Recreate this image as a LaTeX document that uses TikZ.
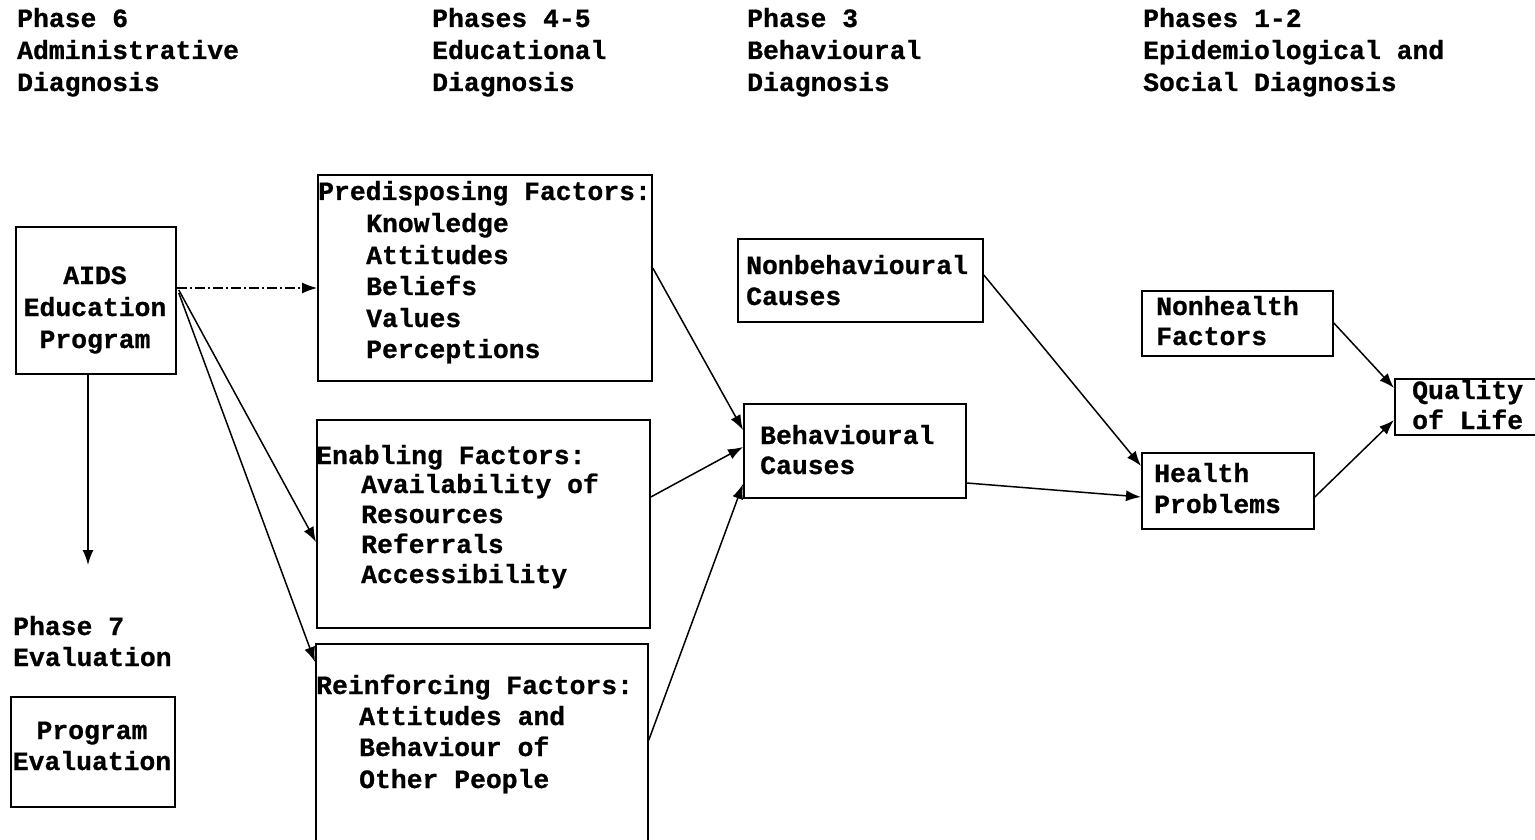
\documentclass[tikz,border=0pt]{standalone}
\usepackage{fontspec}
\newfontfamily\courb{Liberation Mono}[BoldFeatures={FakeBold=0.8}]
\usetikzlibrary{arrows.meta,calc}
\begin{document}
\begin{tikzpicture}[x=1pt,y=-1pt,
  txt/.style={anchor=base west, inner sep=0pt, font=\courb\bfseries\fontsize{26.4}{31.5}\selectfont},
  ctxt/.style={txt, anchor=base},
  box/.style={draw, line width=1.8pt, anchor=north west, inner sep=0pt},
  conn/.style={line width=1.5pt, -{Latex[length=15pt,width=11pt]}}]
\useasboundingbox (0,0) rectangle (1535,840);

% headers
\node[txt] (h6a) at (17,27) {Phase 6};
\node[txt] (h6b) at (17,59) {Administrative};
\node[txt] (h6c) at (17,91) {Diagnosis};
\node[txt] (h4a) at (432,27) {Phases 4-5};
\node[txt] (h4b) at (432,59) {Educational};
\node[txt] (h4c) at (432,91) {Diagnosis};
\node[txt] (h3a) at (747,27) {Phase 3};
\node[txt] (h3b) at (747,59) {Behavioural};
\node[txt] (h3c) at (747,91) {Diagnosis};
\node[txt] (h1a) at (1143,27) {Phases 1-2};
\node[txt] (h1b) at (1143,59) {Epidemiological and};
\node[txt] (h1c) at (1143,91) {Social Diagnosis};

% boxes
\node[box, minimum width=160pt, minimum height=147pt] (aids) at (15,226) {};
\node[box, minimum width=334pt, minimum height=206pt] (pre) at (317,174) {};
\node[box, minimum width=333pt, minimum height=208pt] (ena) at (316,419) {};
\node[box, minimum width=332pt, minimum height=210pt] (rei) at (315,643) {};
\node[box, minimum width=245pt, minimum height=83pt] (nonb) at (737,238) {};
\node[box, minimum width=222pt, minimum height=94pt] (beh) at (743,403) {};
\node[box, minimum width=191pt, minimum height=65pt] (nonh) at (1141,290) {};
\node[box, minimum width=172pt, minimum height=76pt] (hp) at (1141,452) {};
\node[box, minimum width=150pt, minimum height=56pt] (qol) at (1394,378) {};
\node[box, minimum width=164pt, minimum height=110pt] (pe) at (10,696) {};

% box texts
\node[ctxt] (aids1) at (95,284) {AIDS};
\node[ctxt] (aids2) at (95,316) {Education};
\node[ctxt] (aids3) at (95,348) {Program};

\node[txt] (pre0) at (318,200) {Predisposing Factors:};
\node[txt] (pre1) at (366,232) {Knowledge};
\node[txt] (pre2) at (366,264) {Attitudes};
\node[txt] (pre3) at (366,295) {Beliefs};
\node[txt] (pre4) at (366,327) {Values};
\node[txt] (pre5) at (366,358) {Perceptions};

\node[txt] (ena0) at (316,464) {Enabling Factors:};
\node[txt] (ena1) at (361,493) {Availability of};
\node[txt] (ena2) at (361,523) {Resources};
\node[txt] (ena3) at (361,553) {Referrals};
\node[txt] (ena4) at (361,583) {Accessibility};

\node[txt] (rei0) at (316,694) {Reinforcing Factors:};
\node[txt] (rei1) at (359,725) {Attitudes and};
\node[txt] (rei2) at (359,756) {Behaviour of};
\node[txt] (rei3) at (359,788) {Other People};

\node[txt] (nonb1) at (746,274) {Nonbehavioural};
\node[txt] (nonb2) at (746,305) {Causes};
\node[txt] (beh1) at (760,444) {Behavioural};
\node[txt] (beh2) at (760,474) {Causes};
\node[txt] (nonh1) at (1156,315) {Nonhealth};
\node[txt] (nonh2) at (1156,345) {Factors};
\node[txt] (hp1) at (1154,482) {Health};
\node[txt] (hp2) at (1154,513) {Problems};
\node[txt] (qol1) at (1412,399) {Quality};
\node[txt] (qol2) at (1412,429) {of Life};

\node[txt] (p7a) at (13,635) {Phase 7};
\node[txt] (p7b) at (13,666) {Evaluation};
\node[ctxt] (pe1) at (92,739) {Program};
\node[ctxt] (pe2) at (92,770) {Evaluation};

% connectors
\coordinate (down) at (88,565);
\draw[conn, line width=1.1pt, dash pattern=on 10pt off 3pt on 2pt off 3pt] ($(aids.north east)+(0,62)$) -- ($(pre.north west)+(0,114)$);
\draw[conn] ($(aids.north east)+(2,64)$) -- ($(ena.north west)+(0,123)$);
\draw[conn] ($(aids.north east)+(2,67)$) -- ($(rei.north west)+(0,19)$);
\draw[conn] ($(aids.south west)+(73,0)$) -- (down);
\draw[conn] ($(pre.north east)+(0,94)$) -- ($(beh.north west)+(0,27)$);
\draw[conn] ($(ena.north east)+(0,78)$) -- ($(beh.north west)+(0,44)$);
\draw[conn] ($(rei.north east)+(0,97)$) -- ($(beh.north west)+(0,81)$);
\draw[conn] ($(nonb.north east)+(0,37)$) -- ($(hp.north west)+(0,14)$);
\draw[conn] ($(beh.north east)+(0,80)$) -- ($(hp.north west)+(0,45)$);
\draw[conn] ($(nonh.north east)+(0,33)$) -- ($(qol.north west)+(0,10)$);
\draw[conn] ($(hp.north east)+(0,45)$) -- ($(qol.north west)+(0,42)$);
\end{tikzpicture}
\end{document}
